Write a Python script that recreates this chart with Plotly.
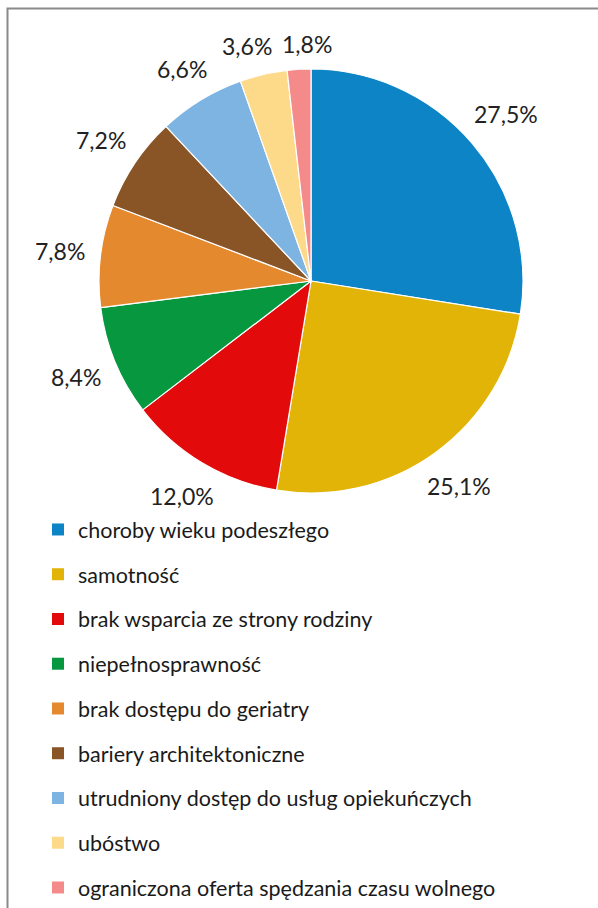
import math
import plotly.graph_objects as go

# Reasons reported by respondents (share of answers, %)
categories = [
    "choroby wieku podeszłego",
    "samotność",
    "brak wsparcia ze strony rodziny",
    "niepełnosprawność",
    "brak dostępu do geriatry",
    "bariery architektoniczne",
    "utrudniony dostęp do usług opiekuńczych",
    "ubóstwo",
    "ograniczona oferta spędzania czasu wolnego",
]
shares = [27.5, 25.1, 12.0, 8.4, 7.8, 7.2, 6.6, 3.6, 1.8]
colors = [
    "#0C84C6", "#E2B407", "#E20A0A", "#06973F", "#E5892E",
    "#8A5526", "#7DB4E2", "#FDD98A", "#F58A8A",
]

W, H = 598, 908
FONT = "Lato"
LABEL_SIZE = 23
LEGEND_SIZE = 21.5

fig = go.Figure()

# Pie: center ~ (311, 281) px, radius ~212 px
cx, cy, r = 311, 281, 212
fig.add_trace(go.Pie(
    labels=categories,
    values=shares,
    sort=False,
    direction="clockwise",
    rotation=0,
    marker=dict(colors=colors, line=dict(color="white", width=1.2)),
    textinfo="none",
    showlegend=False,
    hoverinfo="label+percent",
    domain=dict(
        x=[(cx - r) / W, (cx + r) / W],
        y=[1 - (cy + r) / H, 1 - (cy - r) / H],
    ),
))

# Percentage labels placed just outside each slice, along its mid angle
total = sum(shares)
gap = 14
labels = []
start = 0.0
for v in shares:
    mid = (start + v / 2) / total * 2 * math.pi
    start += v
    txt = f"{v:.1f}".replace(".", ",") + "%"
    w = len(txt) * 0.56 * LABEL_SIZE
    h = 20
    s, c = math.sin(mid), math.cos(mid)
    d = r + gap + (w / 2) * abs(s) + (h / 2) * abs(c)
    labels.append([cx + d * s, cy - d * c, w, h, txt])

# push neighbouring labels apart horizontally where their boxes collide
for i in range(len(labels) - 1):
    a, b = labels[i], labels[i + 1]
    overlap_x = (a[2] + b[2]) / 2 + 8 - abs(a[0] - b[0])
    overlap_y = (a[3] + b[3]) / 2 - abs(a[1] - b[1])
    if overlap_x > 0 and overlap_y > 0:
        sign = 1 if a[0] >= b[0] else -1
        a[0] += sign * overlap_x / 2
        b[0] -= sign * overlap_x / 2

annotations = [
    dict(
        x=lx / W, y=1 - ly / H, xref="paper", yref="paper",
        text=txt, showarrow=False, xanchor="center", yanchor="middle",
        font=dict(family=FONT, size=LABEL_SIZE, color="#222222"),
    )
    for lx, ly, _, _, txt in labels
]

# Legend entries: one group per category so the rows can be spaced apart
for i, (name, col) in enumerate(zip(categories, colors)):
    fig.add_trace(go.Scatter(
        x=[None], y=[None],
        mode="markers",
        name=name,
        legendgroup=f"g{i}",
        marker=dict(symbol="square", size=12, color=col),
        hoverinfo="skip",
    ))

frame_x = 7.5 / W
frame_y = 1 - 8.5 / H

fig.update_layout(
    width=W,
    height=H,
    autosize=False,
    margin=dict(l=0, r=0, t=0, b=0),
    paper_bgcolor="white",
    plot_bgcolor="white",
    xaxis=dict(visible=False),
    yaxis=dict(visible=False),
    annotations=annotations,
    legend=dict(
        x=38 / W,
        xanchor="left",
        y=0,
        yanchor="bottom",
        traceorder="grouped",
        tracegroupgap=13.8,
        font=dict(family=FONT, size=LEGEND_SIZE, color="#1A1A1A"),
        bgcolor="rgba(0,0,0,0)",
        itemclick=False,
        itemdoubleclick=False,
    ),
    shapes=[
        dict(
            type="path",
            xref="paper", yref="paper",
            path=f"M {frame_x},0 L {frame_x},{frame_y} L 1,{frame_y}",
            line=dict(color="#8A8A8A", width=2),
        )
    ],
)

fig.write_html("out.html")
